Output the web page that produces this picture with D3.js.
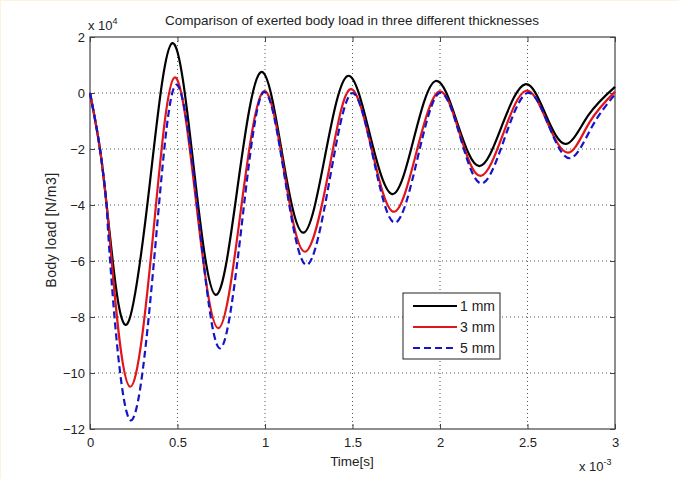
<html>
    <head>
        <meta charset="utf-8">
        <title>Body load comparison</title>
        <script src="https://d3js.org/d3.v7.min.js"></script>
    </head>
    <style>
    body {
        margin: 0;
        background: #fff;
        font-family: 'Liberation Sans', Arial, sans-serif;
    }
    svg text {
        fill: #222;
    }
    </style>
    <body>
    <svg id="svg" width="679" height="479"></svg>
    <script>
    //values: time in 1e-3 s, load in 1e4 N/m3
    //peaks, troughs and the crossing half way between them
    const xTicks = [0, 0.5, 1, 1.5, 2, 2.5, 3];
    const yTicks = [2, 0, -2, -4, -6, -8, -10, -12];
    const legendNames = ["1 mm", "3 mm", "5 mm"];

    const load1mm = [
        [0, 0], [0.057, -2], [0.095, -4], [0.13, -6], [0.215, -8.23],
        [0.342, -3.22], [0.47, 1.78],
        [0.594, -2.72], [0.718, -7.21],
        [0.846, -3.24], [0.975, 0.74],
        [1.097, -2.13], [1.219, -4.99],
        [1.345, -2.19], [1.472, 0.61],
        [1.60, -1.5], [1.729, -3.61],
        [1.852, -1.59], [1.975, 0.43],
        [2.10, -1.09], [2.225, -2.61],
        [2.355, -1.15], [2.486, 0.31],
        [2.603, -0.76], [2.72, -1.82],
        [2.847, -0.8], [3.0, 0.22]
    ];
    const load3mm = [
        [0, 0], [0.057, -2], [0.095, -4], [0.124, -6], [0.229, -10.49],
        [0.362, -4.97], [0.482, 0.55],
        [0.607, -3.93], [0.733, -8.4],
        [0.862, -4.18], [0.99, 0.05],
        [1.11, -2.81], [1.229, -5.67],
        [1.365, -2.77], [1.486, 0.13],
        [1.612, -2.06], [1.737, -4.24],
        [1.866, -2.1], [1.994, 0.05],
        [2.113, -1.46], [2.232, -2.96],
        [2.362, -1.44], [2.491, 0.08],
        [2.612, -1.03], [2.733, -2.13],
        [2.855, -1.04], [3.0, 0.05]
    ];
    const load5mm = [
        [0, 0], [0.057, -2], [0.095, -4], [0.115, -6], [0.229, -11.68],
        [0.37, -5.7], [0.49, 0.29],
        [0.62, -4.42], [0.743, -9.12],
        [0.87, -4.55], [0.99, 0.02],
        [1.114, -3.06], [1.238, -6.14],
        [1.37, -3.08], [1.495, -0.01],
        [1.619, -2.32], [1.743, -4.63],
        [1.872, -2.32], [1.997, 0],
        [2.118, -1.62], [2.238, -3.23],
        [2.369, -1.62], [2.5, 0],
        [2.622, -1.17], [2.743, -2.33],
        [2.87, -1.19], [3.0, -0.05]
    ];

    //svg setup
    var svg = d3.select('svg');
    var margin = { top: 37, left: 90 },
        width = 525,
        height = 392;

    //thin cream frame like the original screenshot
    svg.append("line").attr("x1", 0).attr("y1", 0.5).attr("x2", 679).attr("y2", 0.5)
        .attr("stroke", "#fdf3dc");
    svg.append("line").attr("x1", 0.5).attr("y1", 0).attr("x2", 0.5).attr("y2", 479)
        .attr("stroke", "#fdf3dc");

    var g = svg.append('g').attr('transform', 'translate(' + margin.left + ',' + margin.top + ')');

    var xScale = d3.scaleLinear().domain([0, 3]).range([0, width]);
    var yScale = d3.scaleLinear().domain([-12, 2]).range([height, 0]);

    //dotted grid
    g.selectAll(".vgrid")
        .data(xTicks.slice(1, -1))
        .enter().append("line")
        .attr("x1", d => xScale(d)).attr("x2", d => xScale(d))
        .attr("y1", 0).attr("y2", height)
        .attr("stroke", "#555")
        .attr("stroke-width", 1)
        .attr("stroke-dasharray", "1,3");
    g.selectAll(".hgrid")
        .data(yTicks.slice(1, -1))
        .enter().append("line")
        .attr("x1", 0).attr("x2", width)
        .attr("y1", d => yScale(d)).attr("y2", d => yScale(d))
        .attr("stroke", "#555")
        .attr("stroke-width", 1)
        .attr("stroke-dasharray", "1,3");

    //axes, ticks pointing inside like matlab
    const axisStyle = sel => {
        sel.select(".domain").remove();
        sel.selectAll(".tick line").attr("stroke", "#444");
        sel.selectAll("text").style("font-size", "13px").attr("fill", "#222")
            .style("font-family", "'Liberation Sans', Arial, sans-serif");
    };
    g.append("g")
        .attr("transform", "translate(0," + height + ")")
        .call(d3.axisBottom(xScale).tickValues(xTicks).tickSize(-5).tickPadding(9).tickFormat(d3.format("")))
        .call(axisStyle);
    g.append("g")
        .call(d3.axisTop(xScale).tickValues(xTicks).tickSize(-5).tickFormat(""))
        .call(axisStyle);
    g.append("g")
        .call(d3.axisLeft(yScale).tickValues(yTicks).tickSize(-5).tickPadding(5).tickFormat(d3.format("")))
        .call(axisStyle);
    g.append("g")
        .attr("transform", "translate(" + width + ",0)")
        .call(d3.axisRight(yScale).tickValues(yTicks).tickSize(-5).tickFormat(""))
        .call(axisStyle);

    //box
    g.append("rect")
        .attr("width", width).attr("height", height)
        .attr("fill", "none")
        .attr("stroke", "#444")
        .attr("stroke-width", 1.2);

    //the three lines
    var line = d3.line()
        .x(d => xScale(d[0]))
        .y(d => yScale(d[1]))
        .curve(d3.curveNatural);

    const series = [
        { data: load1mm, color: "#000", dash: null },
        { data: load3mm, color: "#e0161b", dash: null },
        { data: load5mm, color: "#1515c8", dash: "7,4" }
    ];

    series.forEach(s => {
        g.append("path")
            .attr("d", line(s.data))
            .attr("fill", "none")
            .attr("stroke", s.color)
            .attr("stroke-width", 2.2)
            .attr("stroke-dasharray", s.dash);
    });

    //legend
    const legend = svg.append("g").attr("transform", "translate(403,293)");
    legend.append("rect")
        .attr("width", 97).attr("height", 66)
        .attr("fill", "#fff")
        .attr("stroke", "#222")
        .attr("stroke-width", 1);
    series.forEach((s, i) => {
        legend.append("line")
            .attr("x1", 10).attr("x2", 54)
            .attr("y1", 13 + i * 21).attr("y2", 13 + i * 21)
            .attr("stroke", s.color)
            .attr("stroke-width", 2)
            .attr("stroke-dasharray", s.dash);
        legend.append("text")
            .attr("x", 57).attr("y", 18 + i * 21)
            .style("font-size", "14px")
            .text(legendNames[i]);
    });

    //title and labels
    svg.append("text")
        .attr("x", 352).attr("y", 25)
        .attr("text-anchor", "middle")
        .style("font-size", "13.5px")
        .text("Comparison of exerted body load in three different thicknesses");

    svg.append("text")
        .attr("x", 352).attr("y", 466)
        .attr("text-anchor", "middle")
        .style("font-size", "13.5px")
        .text("Time[s]");

    svg.append("text")
        .attr("transform", "translate(56,230) rotate(-90)")
        .attr("text-anchor", "middle")
        .style("font-size", "14px")
        .style("letter-spacing", "0.5px")
        .text("Body load [N/m3]");

    //exponent labels
    const exp4 = svg.append("text").attr("x", 88).attr("y", 30).style("font-size", "13px");
    exp4.append("tspan").text("x 10");
    exp4.append("tspan").attr("dy", -6).style("font-size", "9px").text("4");

    const exp3 = svg.append("text").attr("x", 579).attr("y", 471).style("font-size", "13px");
    exp3.append("tspan").text("x 10");
    exp3.append("tspan").attr("dy", -6).style("font-size", "9px").text("-3");
    </script>
    </body>
</html>
